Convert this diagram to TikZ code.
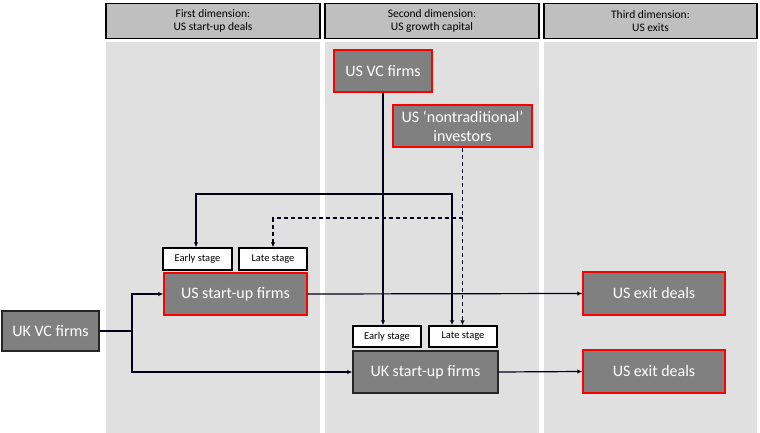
\documentclass[tikz,border=0pt]{standalone}
\usepackage{fontspec}
\setmainfont{Carlito}
\usetikzlibrary{arrows.meta}
\begin{document}
\begin{tikzpicture}[x=1pt,y=-1pt,
 hdr/.style={draw=black,line width=1.5pt,fill=black!25,align=center,font=\fontsize{11.5}{13.5}\selectfont,inner sep=0pt},
 panel/.style={fill=black!12,draw=none},
 usbox/.style={draw=red,line width=1.4pt,fill=black!50,text=white,align=center,font=\fontsize{16}{19}\selectfont,inner sep=0pt},
 ukbox/.style={draw=black!85,line width=1.4pt,fill=black!50,text=white,align=center,font=\fontsize{16}{19}\selectfont,inner sep=0pt},
 stg/.style={draw=black,line width=1.4pt,fill=white,font=\fontsize{10.5}{12}\selectfont,inner sep=0pt},
 ln/.style={line width=1.2pt,draw=black!90!blue},
 arr/.style={ln,-{Latex[length=5pt,width=4.5pt]}},
 dsh/.style={dash pattern=on 4pt off 3pt}]
\useasboundingbox (0,0) rectangle (760,433);
\fill[panel] (106,42) rectangle (320,433);
\fill[panel] (325,42) rectangle (539,433);
\fill[panel] (544,42) rectangle (757,433);
\node[hdr,minimum width=214,minimum height=35] (h1) at (213,21) {First dimension:\\US start-up deals};
\node[hdr,minimum width=214,minimum height=35] (h2) at (432,21) {Second dimension:\\US growth capital};
\node[hdr,minimum width=213,minimum height=35] (h3) at (650.5,21) {Third dimension:\\US exits};
\node[usbox,minimum width=98,minimum height=42] (usvc) at (383,71) {US VC firms};
\node[usbox,minimum width=139,minimum height=42] (nt) at (462.5,126) {US ‘nontraditional’\\investors};
\node[stg,minimum width=69,minimum height=22] (ues) at (197.5,259) {Early stage};
\node[stg,minimum width=68,minimum height=22] (uls) at (273,259) {Late stage};
\node[usbox,minimum width=143,minimum height=42] (ussu) at (235.5,294) {US start-up firms};
\node[ukbox,minimum width=97,minimum height=40] (ukvc) at (50.5,331) {UK VC firms};
\node[stg,minimum width=68,minimum height=21] (kes) at (387,336.5) {Early stage};
\node[stg,minimum width=68,minimum height=21] (kls) at (463,336.5) {Late stage};
\node[ukbox,minimum width=145,minimum height=42] (uksu) at (425.5,372) {UK start-up firms};
\node[usbox,minimum width=142,minimum height=43] (ex1) at (654,293.5) {US exit deals};
\node[usbox,minimum width=142,minimum height=43] (ex2) at (654,371.5) {US exit deals};
\coordinate (j) at (132,331);
\draw[ln] (ukvc.east) -- (j);
\draw[arr] (j) |- (ussu.west);
\draw[arr] (j) |- (uksu.west);
\draw[arr] (ussu.east) -- (ex1.west);
\draw[arr] (uksu.east) -- (ex2.west);
\draw[arr] (usvc.south) -- (usvc.south |- kes.north);
\coordinate (t1) at (196,194);
\coordinate (t2) at (452,194);
\draw[arr] (t2) -- (t1) -- (t1 |- ues.north);
\draw[arr] (t1) -- (t2) -- (t2 |- kls.north);
\draw[arr,dsh] (nt.south) -- (nt.south |- kls.north);
\coordinate (d1) at (273,218);
\draw[arr,dsh] (nt.south |- d1) -- (d1) -- (uls.north);
\end{tikzpicture}
\end{document}
